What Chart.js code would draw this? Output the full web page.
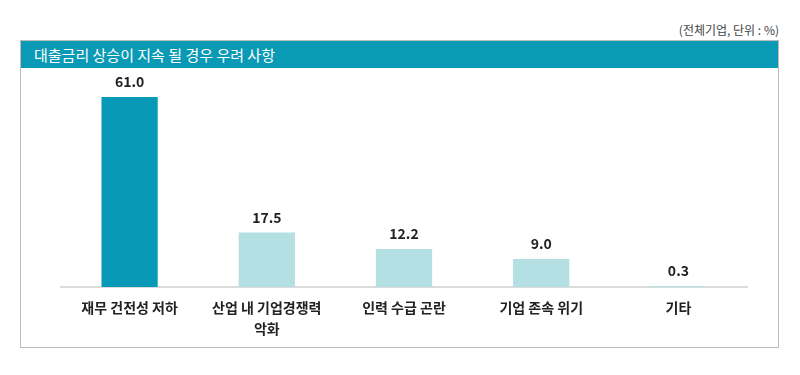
<!DOCTYPE html>
<html>
<head>
<meta charset="utf-8">
<script src="https://cdn.jsdelivr.net/npm/chart.js@4"></script>
<style>
  body { margin: 0; background: #fff; font-family: "Noto Sans CJK KR", sans-serif; }
  #wrap { position: relative; width: 800px; height: 375px; }
  #unit { position: absolute; right: 21px; top: 21px; font-size: 12px; color: #444; }
  #box { position: absolute; left: 20px; top: 40px; width: 757px; height: 306px; border: 1px solid #bdbdbd; }
  #head { position: absolute; left: 0; top: 0; right: 0; height: 27px; background: #0a9ab6;
          color: #fff; font-size: 15px; line-height: 27px; padding-left: 13px; }
  #c { position: absolute; left: 0; top: 0; }
</style>
</head>
<body>
<div id="wrap">
  <div id="unit">(전체기업, 단위 : %)</div>
  <div id="box"><div id="head">대출금리 상승이 지속 될 경우 우려 사항</div></div>
  <canvas id="c" width="800" height="375"></canvas>
</div>
<script>
var categories = ['재무 건전성 저하', ['산업 내 기업경쟁력', '악화'], '인력 수급 곤란', '기업 존속 위기', '기타'];
var values = [61.0, 17.5, 12.2, 9.0, 0.3];
var barColors = ['#0799b6', '#b4dfe3', '#b4dfe3', '#b4dfe3', '#b4dfe3'];

// value labels above each bar
var valueLabels = {
  id: 'valueLabels',
  afterDatasetsDraw: function (chart) {
    var ctx = chart.ctx;
    var meta = chart.getDatasetMeta(0);
    ctx.save();
    ctx.font = 'bold 14px "Noto Sans CJK KR", sans-serif';
    ctx.fillStyle = '#222';
    ctx.textAlign = 'center';
    ctx.textBaseline = 'middle';
    meta.data.forEach(function (bar, i) {
      ctx.fillText(values[i].toFixed(1), bar.x, bar.y - 15);
    });
    ctx.restore();
  }
};

var ctx = document.getElementById('c').getContext('2d');
new Chart(ctx, {
  type: 'bar',
  data: {
    labels: categories,
    datasets: [{
      data: values,
      backgroundColor: barColors,
      barPercentage: 0.82,
      categoryPercentage: 0.5
    }]
  },
  options: {
    responsive: false,
    animation: false,
    layout: { padding: { left: 61, right: 53, top: 69, bottom: 26 } },
    plugins: { legend: { display: false }, tooltip: { enabled: false } },
    scales: {
      x: {
        grid: { display: false, drawTicks: false },
        border: { display: true, color: '#dcdcdc', width: 2 },
        ticks: {
          color: '#222',
          padding: 10,
          maxRotation: 0,
          autoSkip: false,
          font: { family: '"Noto Sans CJK KR", sans-serif', size: 14, weight: 'bold', lineHeight: 1.5 }
        }
      },
      y: { display: false, min: 0, max: 70 }
    }
  },
  plugins: [valueLabels]
});
</script>
</body>
</html>
